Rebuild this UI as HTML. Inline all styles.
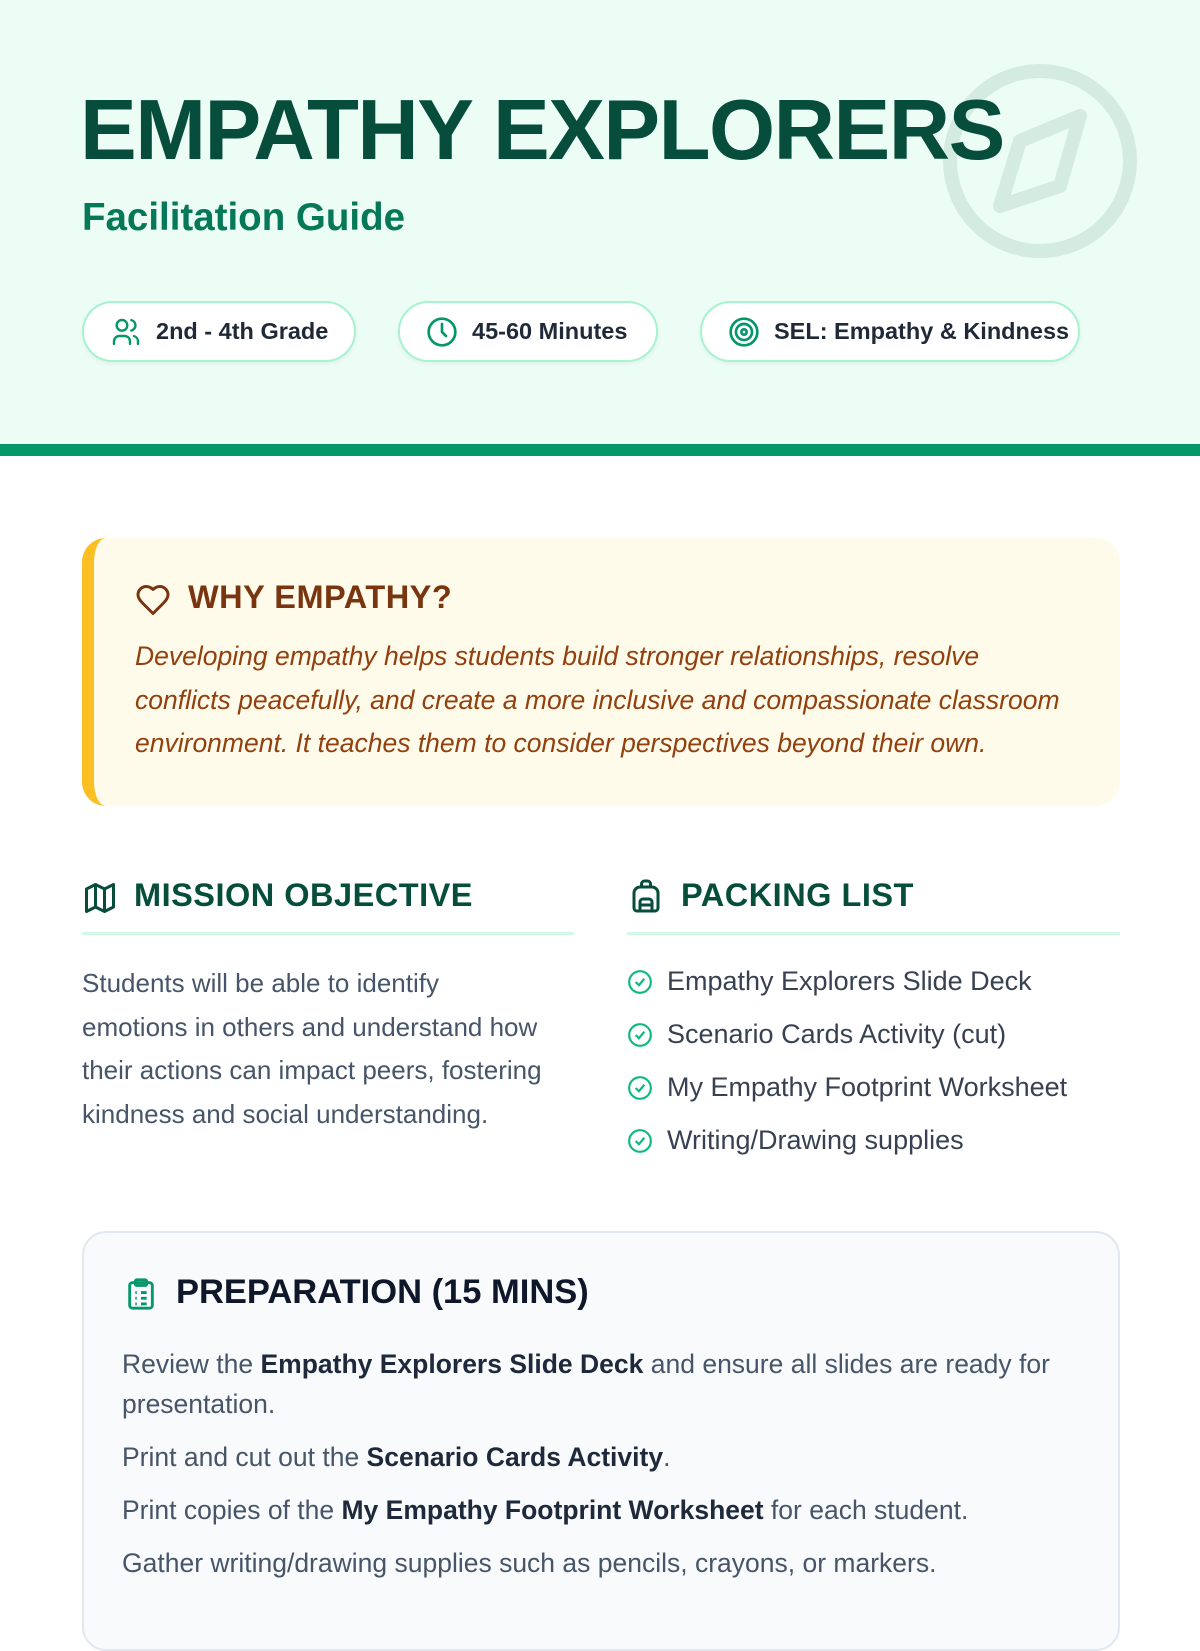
<!DOCTYPE html>
<html><head><meta charset="utf-8"><style>
*{margin:0;padding:0;box-sizing:border-box}
body{width:1200px;height:1600px;overflow:hidden;background:#fff;font-family:"Liberation Sans",sans-serif;position:relative}
.abs{position:absolute;white-space:nowrap}
.pill{position:absolute;top:301px;height:61px;background:#fff;border:2px solid #a7f3d0;border-radius:31px;display:flex;align-items:center;padding-left:26px;font-weight:bold;font-size:23.5px;color:#1f2937;box-shadow:0 2px 4px rgba(0,0,0,.05)}
.pill svg{margin-right:14px}
.h2{font-weight:900;font-size:32.5px;color:#064e3b;letter-spacing:0.5px}
.body{font-size:26px;color:#475569;line-height:43.5px}
.li{position:absolute;left:627px;font-size:27px;color:#374151;display:flex;align-items:center}
.li svg{margin-right:14px}
.p{position:absolute;left:122px;font-size:26.5px;color:#475569;line-height:40px}
.p b{color:#1e293b}
</style></head><body>
<div class="abs" style="left:0;top:0;width:1200px;height:444px;background:#ecfdf5"></div>
<div class="abs" style="left:0;top:444px;width:1200px;height:12px;background:#059669"></div>
<svg class="abs" style="left:935px;top:56px" width="210" height="210" viewBox="0 0 210 210"><circle cx="105" cy="105" r="90" fill="none" stroke="#d3ebe0" stroke-width="14"/><path d="M145 60 L125 130 L65 150 L85 85 Z" fill="none" stroke="#d3ebe0" stroke-width="14" stroke-linejoin="round"/></svg>
<div class="abs" style="left:80px;top:84px;font-size:85px;font-weight:900;color:#064e3b;letter-spacing:-1.5px;line-height:94px">EMPATHY EXPLORERS</div>
<div class="abs" style="left:82px;top:196px;font-size:38.5px;font-weight:bold;color:#047857">Facilitation Guide</div>
<div class="pill" style="left:82px;width:274px"><svg width="32" height="32" viewBox="0 0 24 24" fill="none" stroke="#059669" stroke-width="1.8" stroke-linecap="round"><circle cx="9" cy="7" r="4"/><path d="M3 21v-2a4 4 0 0 1 4-4h4a4 4 0 0 1 4 4v2M16 3.1a4 4 0 0 1 0 7.8M21 21v-2a4 4 0 0 0-3-3.9"/></svg>2nd - 4th Grade</div>
<div class="pill" style="left:398px;width:260px"><svg width="32" height="32" viewBox="0 0 24 24" fill="none" stroke="#059669" stroke-width="2" stroke-linecap="round"><circle cx="12" cy="12" r="10"/><path d="M12 6v6l3 3"/></svg>45-60 Minutes</div>
<div class="pill" style="left:700px;width:380px"><svg width="32" height="32" viewBox="0 0 24 24" fill="none" stroke="#059669" stroke-width="2"><circle cx="12" cy="12" r="10"/><circle cx="12" cy="12" r="6"/><circle cx="12" cy="12" r="2"/></svg>SEL: Empathy &amp; Kindness</div>

<div class="abs" style="left:82px;top:538px;width:1038px;height:268px;background:#fffbeb;border-left:12px solid #fbbf24;border-radius:24px"></div>
<svg class="abs" style="left:134px;top:582px" width="38" height="36" viewBox="0 0 24 24" fill="none" stroke="#78350f" stroke-width="2" stroke-linejoin="round"><path d="M19 14c1.5-1.5 3-3.2 3-5.5A5.5 5.5 0 0 0 16.5 3c-1.8 0-3 .5-4.5 2-1.5-1.5-2.7-2-4.5-2A5.5 5.5 0 0 0 2 8.5c0 2.3 1.5 4 3 5.5l7 7Z"/></svg>
<div class="abs h2" style="left:188px;top:579px;color:#78350f">WHY EMPATHY?</div>
<div class="abs" style="left:135px;top:635px;font-size:26.5px;font-style:italic;color:#92400e;line-height:43.5px">Developing empathy helps students build stronger relationships, resolve<br>conflicts peacefully, and create a more inclusive and compassionate classroom<br>environment. It teaches them to consider perspectives beyond their own.</div>

<svg class="abs" style="left:82px;top:880px" width="36" height="36" viewBox="0 0 24 24" fill="none" stroke="#064e3b" stroke-width="2" stroke-linejoin="round"><path d="M3 6l6-3 6 3 6-3v15l-6 3-6-3-6 3Z M9 3v15 M15 6v15"/></svg>
<div class="abs h2" style="left:134px;top:877px">MISSION OBJECTIVE</div>
<div class="abs" style="left:82px;top:932px;width:492px;height:3px;background:#d1fae5"></div>
<div class="abs body" style="left:82px;top:962px">Students will be able to identify<br>emotions in others and understand how<br>their actions can impact peers, fostering<br>kindness and social understanding.</div>

<svg class="abs" style="left:628px;top:876px" width="36" height="40" viewBox="0 0 24 24" fill="none" stroke="#064e3b" stroke-width="2" stroke-linejoin="round"><path d="M4 10a4 4 0 0 1 4-4h8a4 4 0 0 1 4 4v10a2 2 0 0 1-2 2H6a2 2 0 0 1-2-2Z M9 6V4a2 2 0 0 1 2-2h2a2 2 0 0 1 2 2v2 M8 22v-6a2 2 0 0 1 2-2h4a2 2 0 0 1 2 2v6 M8 18h8"/></svg>
<div class="abs h2" style="left:681px;top:877px">PACKING LIST</div>
<div class="abs" style="left:627px;top:932px;width:493px;height:3px;background:#d1fae5"></div>
<div class="li" style="top:966px"><svg width="26" height="26" viewBox="0 0 24 24" fill="none" stroke="#10b981" stroke-width="2"><circle cx="12" cy="12" r="10"/><path d="M8 12l3 3 5-6"/></svg>Empathy Explorers Slide Deck</div>
<div class="li" style="top:1019px"><svg width="26" height="26" viewBox="0 0 24 24" fill="none" stroke="#10b981" stroke-width="2"><circle cx="12" cy="12" r="10"/><path d="M8 12l3 3 5-6"/></svg>Scenario Cards Activity (cut)</div>
<div class="li" style="top:1072px"><svg width="26" height="26" viewBox="0 0 24 24" fill="none" stroke="#10b981" stroke-width="2"><circle cx="12" cy="12" r="10"/><path d="M8 12l3 3 5-6"/></svg>My Empathy Footprint Worksheet</div>
<div class="li" style="top:1125px"><svg width="26" height="26" viewBox="0 0 24 24" fill="none" stroke="#10b981" stroke-width="2"><circle cx="12" cy="12" r="10"/><path d="M8 12l3 3 5-6"/></svg>Writing/Drawing supplies</div>

<div class="abs" style="left:82px;top:1231px;width:1038px;height:420px;background:#f8fafc;border:2px solid #e2e8f0;border-radius:24px"></div>
<svg class="abs" style="left:124px;top:1275px" width="34" height="38" viewBox="0 0 24 24" fill="none" stroke="#059669" stroke-width="2" stroke-linejoin="round"><rect x="4" y="4" width="16" height="18" rx="2"/><rect x="8" y="2" width="8" height="4" rx="1"/><path d="M8 11h1M12 11h4M8 15h1M12 15h4M8 19h1M12 19h4"/></svg>
<div class="abs" style="left:176px;top:1273px;font-size:34.5px;font-weight:900;color:#0f172a">PREPARATION (15 MINS)</div>
<div class="p" style="top:1344px">Review the <b>Empathy Explorers Slide Deck</b> and ensure all slides are ready for<br>presentation.</div>
<div class="p" style="top:1437px">Print and cut out the <b>Scenario Cards Activity</b>.</div>
<div class="p" style="top:1490px">Print copies of the <b>My Empathy Footprint Worksheet</b> for each student.</div>
<div class="p" style="top:1543px">Gather writing/drawing supplies such as pencils, crayons, or markers.</div>
</body></html>
